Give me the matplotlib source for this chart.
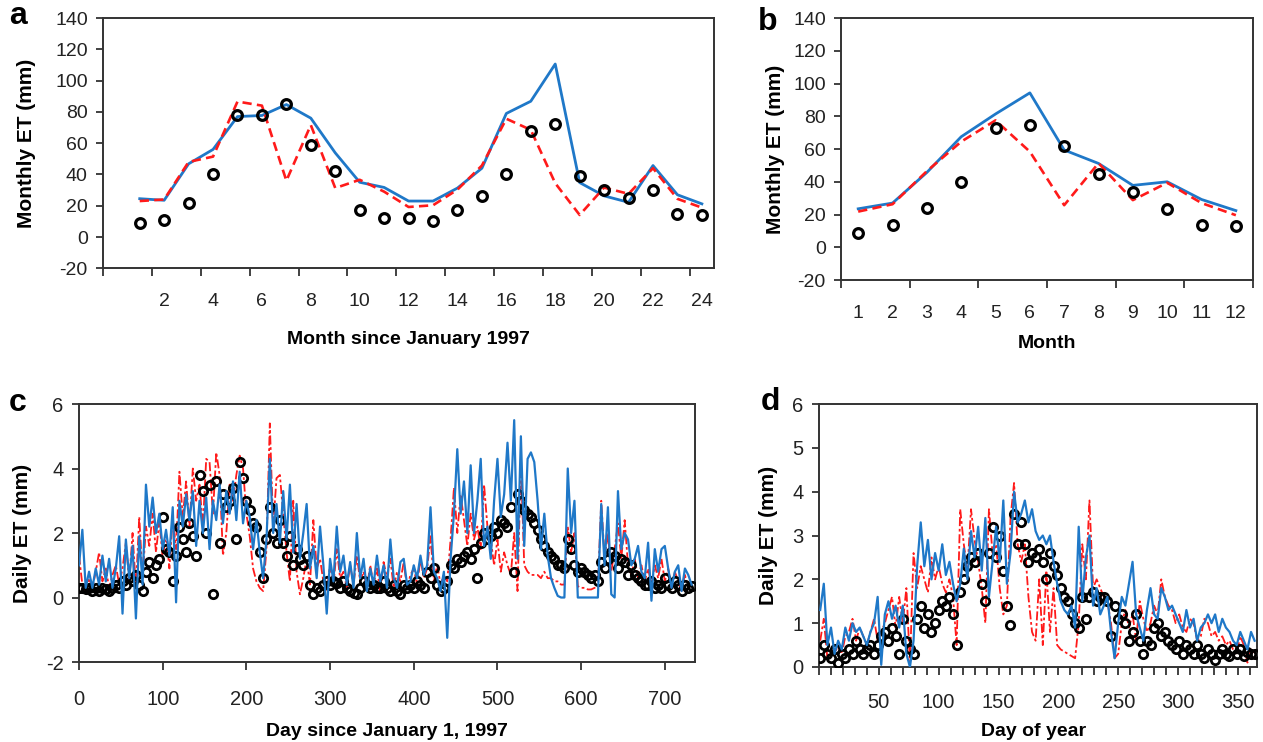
import numpy as np
import matplotlib.pyplot as plt

plt.rcParams['font.family'] = ['Liberation Sans', 'DejaVu Sans']
plt.rcParams['axes.unicode_minus'] = False

BLUE = '#1f78c8'
RED = '#ff1a1a'
INK = '#333333'

# (a) monthly ET since January 1997
months_a = list(range(1, 25))
obs_a = [9, 11, 22, 40, 78, 78, 85, 59, 42, 17, 12, 12,
         10, 17, 26, 40, 68, 72, 39, 30, 25, 30, 15, 14]
blue_a = [24.5, 23.5, 46.8, 56, 77, 77.7, 84.7, 76, 53.8, 35, 31.7, 23,
          23, 31.3, 44, 79, 86.8, 110.6, 34.8, 26.3, 22.2, 45.7, 27, 21.2]
red_a = [23, 24, 48, 51.4, 86.6, 84, 36, 71.6, 31.3, 36.6, 29, 19.2,
         20.3, 30.3, 45.7, 75.6, 68.5, 34.4, 14.1, 31.6, 27.6, 44, 24.4, 18.8]

# (b) mean monthly ET
months_b = list(range(1, 13))
obs_b = [9, 13.7, 24, 40, 72.9, 74.7, 61.8, 44.9, 33.9, 23.3, 13.5, 12.9]
blue_b = [23.5, 27, 45.7, 67.5, 81.4, 94.3, 59.4, 51.2, 37.8, 40, 29.2, 22.4]
red_b = [21.8, 26.3, 46.5, 64.5, 77.5, 58.4, 25.7, 51.4, 28.8, 39.4, 27, 19.6]

# (c) daily ET, one value every 4th day since Jan 1, 1997
step_c = 4
blue_c = [1.0, 2.1, 0.3, 0.8, 0.3, 0.9, 0.4, 1.3, 0.5, 1.2,
          0.3, 0.9, 1.9, -0.5, 1.8, 0.6, 1.6, -0.65, 1.9, 0.4,
          3.5, 2.2, 3.1, 2.0, 2.6, 1.5, 2.1, 1.3, 2.8, -0.15,
          3.0, 2.2, 3.2, 2.4, 3.3, 1.6, 3.0, 2.0, 3.1, 1.5,
          3.0, 2.4, 3.5, 2.3, 3.3, 2.6, 3.6, 2.4, 3.9, 2.3,
          3.0, 2.5, 1.5, 2.4, 1.4, 0.6, 1.8, 4.3, 2.0, 2.9,
          1.7, 3.3, 1.8, 3.5, 1.4, 2.9, 1.2, 2.0, 2.9, 0.9,
          1.6, 0.6, 2.2, 1.0, -0.5, 1.2, 0.5, 2.2, 0.8, 1.3,
          0.4, 1.1, 0.3, 2.0, 0.6, 1.2, 0.2, 0.9, 0.4, 1.3,
          0.5, 1.0, 0.3, 1.8, 0.6, 0.3, 1.1, 1.2, 0.4, 0.5,
          1.0, 0.6, 1.3, 0.7, 1.0, 2.8, 0.8, 0.6, 0.2, 0.8,
          -1.25, 1.2, 2.6, 4.6, 2.6, 3.6, 2.0, 4.1, 2.0, 3.0,
          4.3, 1.6, 2.2, 1.2, 3.0, 4.3, 2.5, 3.2, 4.8, 3.0,
          5.5, 1.2, 5.0, 1.6, 4.3, 4.5, 4.2, 3.0, 1.5, 2.6,
          1.3, 0.6, 0.3, 0.05, 0.0, 0.0, 4.0, 2.0, 3.0, 0.0,
          0.0, 0.0, 0.0, 0.0, 0.0, 0.0, 2.9, 1.0, 2.8, 0.1,
          0.0, 3.3, 1.5, 2.0, 1.8, 1.0, 1.2, 1.6, 0.8, 0.6,
          1.7, -0.1, 1.5, 0.8, 1.5, 1.6, 0.9, 0.3, 0.8, 1.0,
          0.2, 0.9, 0.7, 0.4]
red_c = [1.3, 0.4, 0.2, 0.6, 0.3, 0.8, 1.4, 0.5, 0.9, 0.3,
         0.7, 1.0, 0.4, 0.9, 1.7, 0.5, 2.0, 0.3, 2.5, 0.6,
         2.2, 1.6, 2.6, 1.4, 2.4, 1.2, 2.0, 0.9, 2.5, 1.5,
         3.9, 2.5, 3.6, 2.2, 4.0, 3.0, 3.5, 2.2, 4.3, 4.2,
         2.6, 4.5, 3.8, 1.3, 2.0, 3.5, 3.0, 3.8, 4.4, 4.0,
         2.6, 1.9, 0.9, 0.5, 0.3, 0.2, 1.5, 5.4, 2.2, 3.7,
         3.8, 2.6, 1.4, 0.5, 3.0, 0.8, 0.1, 0.6, 1.2, 0.4,
         2.4, 0.9, 1.2, 0.5, 0.2, 1.0, 0.4, 1.5, 0.6, 0.8,
         0.3, 1.0, 0.4, 1.3, 0.5, 0.8, 0.3, 1.0, 0.4, 0.9,
         0.2, 1.1, 0.6, 1.2, 0.3, 0.8, 0.5, 1.1, 0.3, 0.7,
         0.9, 0.4, 1.2, 0.6, 0.9, 1.9, 0.5, 1.0, 0.4, 0.7,
         0.5, 1.8, 3.4, 2.0, 3.2, 2.4, 1.6, 2.6, 1.8, 2.2,
         1.5, 3.5, 2.2, 1.8, 1.0, 1.8, 0.8, 1.4, 1.0, 0.7,
         2.0, 0.2, 4.2, 1.0, 0.8, 0.7, 0.7, 0.7, 0.6, 0.8,
         0.6, 0.6, 0.5, 0.5, 0.4, 0.4, 2.2, 1.4, 2.0, 0.35,
         0.3, 0.3, 0.25, 0.25, 0.3, 0.3, 3.0, 1.2, 2.0, 0.8,
         1.5, 2.3, 1.2, 2.4, 1.0, 0.7, 1.2, 0.6, 1.0, 0.5,
         0.9, 0.4, 1.0, 0.6, 1.2, 0.5, 0.9, 0.3, 0.8, 0.5,
         0.2, 0.7, 0.3, 0.4]
obs_c = [0.3, 0.3, 0.25, 0.3, 0.2, 0.3, 0.2, 0.3, 0.25, 0.2,
         0.3, 0.4, 0.3, 0.5, 0.4, 0.6, 0.5, 0.7, 0.4, 0.2,
         0.8, 1.1, 0.6, 1.0, 1.2, 2.5, 1.5, 1.4, 0.5, 1.3,
         2.2, 1.8, 1.4, 2.3, 1.9, 1.3, 3.8, 3.3, 2.0, 3.5,
         0.1, 3.6, 1.7, 3.2, 2.8, 3.0, 3.4, 1.8, 4.2, 3.7,
         3.0, 2.7, 2.3, 2.2, 1.4, 0.6, 1.8, 2.8, 2.0, 1.7,
         2.4, 1.7, 1.3, 1.9, 1.0, 1.5, 1.2, 1.0, 1.3, 0.4,
         0.1, 0.3, 0.2, 0.4, 0.5, 0.4, 0.5, 0.45, 0.3, 0.5,
         0.3, 0.2, 0.15, 0.1, 0.3, 0.5, 0.4, 0.3, 0.4, 0.3,
         0.3, 0.5, 0.3, 0.2, 0.4, 0.2, 0.1, 0.4, 0.3, 0.4,
         0.3, 0.5, 0.4, 0.3, 0.8, 0.6, 0.9, 0.4, 0.2, 0.3,
         0.5, 1.0, 0.9, 1.2, 1.1, 1.3, 1.4, 1.2, 1.5, 0.6,
         1.7, 2.0, 1.8, 1.9, 2.2, 2.0, 2.4, 2.3, 2.2, 2.8,
         0.8, 3.2, 3.0, 2.7, 2.6, 2.5, 2.3, 2.1, 1.8, 1.6,
         1.4, 1.3, 1.2, 1.0, 1.0, 0.9, 1.8, 1.5, 1.0, 0.8,
         0.9, 0.8, 0.7, 0.6, 0.7, 0.5, 1.1, 0.9, 1.2, 1.4,
         1.3, 0.9, 1.2, 1.1, 0.7, 1.0, 0.7, 0.6, 0.5, 0.4,
         0.4, 0.5, 0.3, 0.4, 0.3, 0.6, 0.4, 0.3, 0.5, 0.4,
         0.2, 0.4, 0.3, 0.35]

# (d) mean daily ET by day of year, one value every 3rd day from day 1
step_d = 3
blue_d = [1.3, 1.9, 0.5, 0.9, 0.3, 0.6, 0.4, 0.9, 0.6, 1.0,
          0.8, 0.9, 0.7, 0.5, 0.8, 1.0, 1.6, 0.05, 1.2, 1.5,
          1.1, 1.4, 0.9, 1.4, 0.3, 0.0, 0.6, 2.3, 3.3, 2.3,
          2.9, 2.0, 2.6, 2.2, 2.8, 2.1, 2.4, 1.9, 1.5, 1.9,
          2.7, 2.0, 3.1, 2.5, 3.2, 2.2, 3.4, 1.6, 2.4, 3.2,
          2.4, 3.8, 1.9, 2.6, 4.0, 3.3, 3.5, 3.8, 3.3, 3.6,
          3.1, 2.9, 3.0, 2.8, 3.0, 2.4, 1.9, 1.5, 1.3, 1.2,
          1.4, 0.9, 3.2, 1.5, 2.5, 3.0, 1.4, 1.8, 1.2, 1.4,
          1.6, 0.8, 0.2, 1.0, 1.6, 1.4, 1.9, 2.4, 1.2, 0.9,
          0.6, 1.3, 1.8, 1.2, 1.1, 1.8, 1.6, 1.3, 1.4, 1.2,
          1.0, 0.8, 1.3, 0.9, 1.1, 0.6, 0.9, 1.0, 1.2, 1.0,
          1.2, 0.8, 1.1, 0.9, 0.8, 0.6, 0.5, 0.8, 0.6, 0.4,
          0.8, 0.6]
red_d = [0.6, 1.1, 0.2, 0.4, 0.3, 0.5, 0.3, 0.7, 0.8, 1.1,
         0.6, 0.9, 0.7, 0.5, 0.8, 1.1, 0.6, 0.8, 1.0, 1.3,
         1.6, 0.9, 1.6, 1.0, 1.8, 0.05, 2.6, 1.8, 2.3, 2.0,
         1.7, 2.5, 2.0, 2.3, 1.9, 1.7, 2.0, 1.6, 0.5, 3.6,
         2.8, 2.2, 3.6, 2.9, 2.4, 1.8, 1.0, 3.6, 2.6, 2.8,
         1.8, 1.2, 1.4, 3.4, 4.2, 2.8, 2.4, 2.8, 1.6, 0.8,
         0.6, 2.0, 0.5, 2.2, 0.8, 1.8, 0.5, 0.4, 0.35, 0.3,
         0.25, 0.2, 1.0, 2.8, 2.0, 3.8, 1.8, 2.0, 1.8, 1.6,
         1.5, 1.0, 0.2, 0.3, 1.0, 1.3, 0.9, 1.2, 0.6, 1.5,
         1.1, 0.8, 1.0, 1.4, 1.2, 2.0, 1.6, 1.4, 1.3, 1.0,
         1.2, 0.9, 0.8, 1.1, 1.0, 0.6, 0.7, 1.1, 1.0, 0.7,
         0.8, 0.6, 0.7, 0.5, 0.6, 0.4, 0.3, 0.7, 0.5, 0.1,
         0.4, 0.3]
obs_d = [0.2, 0.5, 0.3, 0.2, 0.4, 0.1, 0.3, 0.2, 0.4, 0.3,
         0.6, 0.4, 0.3, 0.4, 0.5, 0.3, 0.5, 0.7, 0.8, 0.6,
         0.9, 0.7, 0.3, 1.1, 0.6, 0.4, 0.3, 1.1, 1.4, 0.9,
         1.2, 0.8, 1.0, 1.3, 1.5, 1.4, 1.6, 1.2, 0.5, 1.7,
         2.0, 2.3, 2.5, 2.4, 2.6, 1.9, 1.5, 2.6, 3.2, 2.5,
         3.0, 2.2, 1.4, 0.95, 3.5, 2.8, 3.3, 2.8, 2.4, 2.6,
         2.5, 2.7, 2.4, 2.0, 2.6, 2.3, 2.1, 1.8, 1.6, 1.5,
         1.2, 1.0, 0.9, 1.6, 1.1, 1.6, 1.7, 1.5, 1.6, 1.6,
         1.5, 0.7, 1.4, 1.1, 1.2, 1.0, 0.6, 0.8, 1.2, 0.6,
         0.3, 0.6, 0.5, 0.9, 1.0, 0.7, 0.8, 0.6, 0.5, 0.4,
         0.6, 0.3, 0.5, 0.4, 0.3, 0.5, 0.3, 0.2, 0.4, 0.3,
         0.15, 0.3, 0.4, 0.3, 0.25, 0.4, 0.3, 0.4, 0.25, 0.35,
         0.3, 0.3]

days_c = np.arange(len(blue_c)) * step_c
days_d = 1 + np.arange(len(blue_d)) * step_d


def frame(ax, size):
    for s in ax.spines.values():
        s.set_color(INK)
        s.set_linewidth(1.4)
    ax.tick_params(axis='y', direction='out', length=5, width=1.3, color=INK,
                   labelsize=size, labelcolor='#222222', pad=6)
    ax.tick_params(axis='x', which='both', direction='out', width=1.3, color=INK,
                   labelsize=size, labelcolor='#222222')


fig = plt.figure(figsize=(12.63, 7.42), dpi=100)

# panel a
ax = fig.add_axes([0.0816, 0.6384, 0.4838, 0.3373])
ax.plot(months_a, blue_a, color=BLUE, lw=2.0, zorder=2)
ax.plot(months_a, red_a, color=RED, lw=1.9, ls=(0, (3.5, 2)), zorder=3)
ax.plot(months_a, obs_a, 'o', ms=7, mfc='none', mec='black', mew=2.3, zorder=4)
ax.set_xlim(-0.5, 24.5)
ax.set_ylim(-20, 140)
ax.set_yticks(range(-20, 141, 20))
ax.set_xticks(range(2, 25, 2))
ax.set_xticks(np.arange(-0.5, 24, 2), minor=True)
frame(ax, 14)
ax.tick_params(axis='x', which='major', length=0, pad=18)
ax.tick_params(axis='x', which='minor', length=6)
ax.set_xlabel('Month since January 1997', fontsize=14, fontweight='bold')
ax.set_ylabel('Monthly ET (mm)', fontsize=15, fontweight='bold')
ax.xaxis.set_label_coords(0.5, -0.25)
ax.yaxis.set_label_coords(-0.110, 0.5)

# panel b
ax = fig.add_axes([0.6659, 0.6226, 0.3262, 0.3531])
ax.plot(months_b, blue_b, color=BLUE, lw=2.0, zorder=2)
ax.plot(months_b, red_b, color=RED, lw=1.9, ls=(0, (3.5, 2)), zorder=3)
ax.plot(months_b, obs_b, 'o', ms=7, mfc='none', mec='black', mew=2.3, zorder=4)
ax.set_xlim(0.5, 12.5)
ax.set_ylim(-20, 140)
ax.set_yticks(range(-20, 141, 20))
ax.set_xticks(months_b)
ax.set_xticks(np.arange(0.5, 13, 2), minor=True)
frame(ax, 14)
ax.tick_params(axis='x', which='major', length=0, pad=18)
ax.tick_params(axis='x', which='minor', length=6)
ax.set_xlabel('Month', fontsize=14, fontweight='bold')
ax.set_ylabel('Monthly ET (mm)', fontsize=15, fontweight='bold')
ax.xaxis.set_label_coords(0.5, -0.21)
ax.yaxis.set_label_coords(-0.136, 0.5)

# panel c
ax = fig.add_axes([0.06255, 0.1078, 0.4877, 0.3477])
ax.plot(days_c, red_c, color=RED, lw=1.3, ls=(0, (5, 1.5, 1.5, 1.5)), zorder=2)
ax.plot(days_c, obs_c, 'o', ms=6, mfc='none', mec='black', mew=2.0, zorder=3)
ax.plot(days_c, blue_c, color=BLUE, lw=1.6, zorder=4)
ax.set_xlim(0, 736)
ax.set_ylim(-2, 6)
ax.set_yticks(range(-2, 7, 2))
ax.set_xticks(range(0, 701, 100))
frame(ax, 14.5)
ax.tick_params(axis='x', length=6, pad=14)
ax.set_xlabel('Day since January 1, 1997', fontsize=14, fontweight='bold')
ax.set_ylabel('Daily ET (mm)', fontsize=15, fontweight='bold')
ax.xaxis.set_label_coords(0.5, -0.236)
ax.yaxis.set_label_coords(-0.076, 0.5)

# panel d
ax = fig.add_axes([0.64846, 0.10108, 0.3468, 0.3544])
ax.plot(days_d, red_d, color=RED, lw=1.3, ls=(0, (5, 1.5, 1.5, 1.5)), zorder=2)
ax.plot(days_d, obs_d, 'o', ms=6, mfc='none', mec='black', mew=2.0, zorder=3)
ax.plot(days_d, blue_d, color=BLUE, lw=1.6, zorder=4)
ax.set_xlim(0, 366)
ax.set_ylim(0, 6)
ax.set_yticks(range(0, 7))
ax.set_xticks(range(50, 351, 50))
ax.set_xticks(range(0, 361, 10), minor=True)
frame(ax, 14.5)
ax.tick_params(axis='x', which='both', length=6)
ax.tick_params(axis='x', which='major', pad=13)
ax.set_xlabel('Day of year', fontsize=14, fontweight='bold')
ax.set_ylabel('Daily ET (mm)', fontsize=15, fontweight='bold')
ax.xaxis.set_label_coords(0.49, -0.212)
ax.yaxis.set_label_coords(-0.094, 0.5)

# panel letters
for letter, x, y in [('a', 18, 16), ('b', 768, 22), ('c', 18, 403), ('d', 770, 402)]:
    fig.text(x / 1263, 1 - y / 742, letter, fontsize=23, fontweight='bold',
             ha='center', va='center')

fig.savefig('out.png', dpi=100)
